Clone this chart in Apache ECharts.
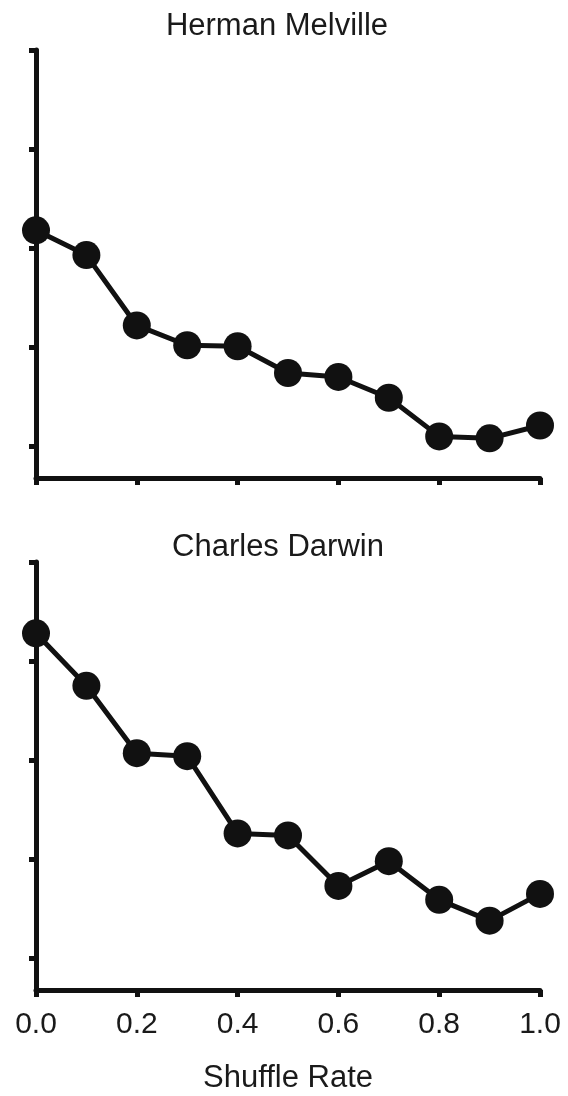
<!DOCTYPE html>
<html>
<head>
<meta charset="utf-8">
<script src="https://cdn.jsdelivr.net/npm/echarts@6/dist/echarts.min.js"></script>
<style>
  html, body { margin: 0; padding: 0; background: #fff; }
  #chart { width: 568px; height: 1096px; }
</style>
</head>
<body>
<div id="chart"></div>
<script>
// shuffle rates on the x axis
const shuffleRates = [0.0, 0.1, 0.2, 0.3, 0.4, 0.5, 0.6, 0.7, 0.8, 0.9, 1.0]
// values (unlabelled y axis, tick units)
const melville = [3.18, 2.93, 2.22, 2.02, 2.01, 1.74, 1.70, 1.49, 1.10, 1.08, 1.21]
const darwin = [4.28, 3.75, 3.07, 3.04, 2.26, 2.24, 1.73, 1.98, 1.59, 1.38, 1.65]
const panelTitles = ["Herman Melville", "Charles Darwin"]
const yTicks = [1, 2, 3, 4, 5]

const ink = "#111"
const font = "Liberation Sans, Arial, sans-serif"

const pairs = arr => shuffleRates.map((x, i) => [x, arr[i]])

const axisLine = { show: true, lineStyle: { color: ink, width: 5 } }

function xAxis(idx, showLabels) {
    return {
        type: "value",
        gridIndex: idx,
        min: 0,
        max: 1,
        interval: 0.2,
        splitLine: { show: false },
        axisLine: axisLine,
        axisTick: { show: true, length: 7, lineStyle: { color: ink, width: 5 } },
        axisLabel: {
            show: showLabels,
            margin: 20,
            color: "#1a1a1a",
            fontSize: 30,
            fontFamily: font,
            formatter: v => v.toFixed(1)
        },
        name: showLabels ? "Shuffle Rate" : "",
        nameLocation: "middle",
        nameGap: 73,
        nameTextStyle: { color: "#1a1a1a", fontSize: 31, fontFamily: font }
    }
}

function yAxis(idx) {
    return {
        type: "value",
        gridIndex: idx,
        min: 0.68,
        max: 5,
        splitLine: { show: false },
        axisLine: axisLine,
        axisTick: { show: true, length: 7, customValues: yTicks, lineStyle: { color: ink, width: 5 } },
        axisLabel: { show: false }
    }
}

function series(idx, data) {
    return {
        type: "line",
        xAxisIndex: idx,
        yAxisIndex: idx,
        data: pairs(data),
        symbol: "circle",
        symbolSize: 28,
        itemStyle: { color: ink },
        lineStyle: { color: ink, width: 5 },
        animation: false
    }
}

const titleStyle = { color: "#1a1a1a", fontSize: 31, fontWeight: "normal", fontFamily: font }

const myCharts = echarts.init(document.getElementById("chart"))
myCharts.setOption({
    backgroundColor: "#fff",
    title: [
        { text: panelTitles[0], left: 272, top: 6, textAlign: "center", textStyle: titleStyle },
        { text: panelTitles[1], left: 273, top: 527, textAlign: "center", textStyle: titleStyle }
    ],
    grid: [
        { left: 36, top: 50, width: 504, height: 428 },
        { left: 36, top: 562, width: 504, height: 428 }
    ],
    xAxis: [xAxis(0, false), xAxis(1, true)],
    yAxis: [yAxis(0), yAxis(1)],
    series: [series(0, melville), series(1, darwin)]
})
</script>
</body>
</html>
